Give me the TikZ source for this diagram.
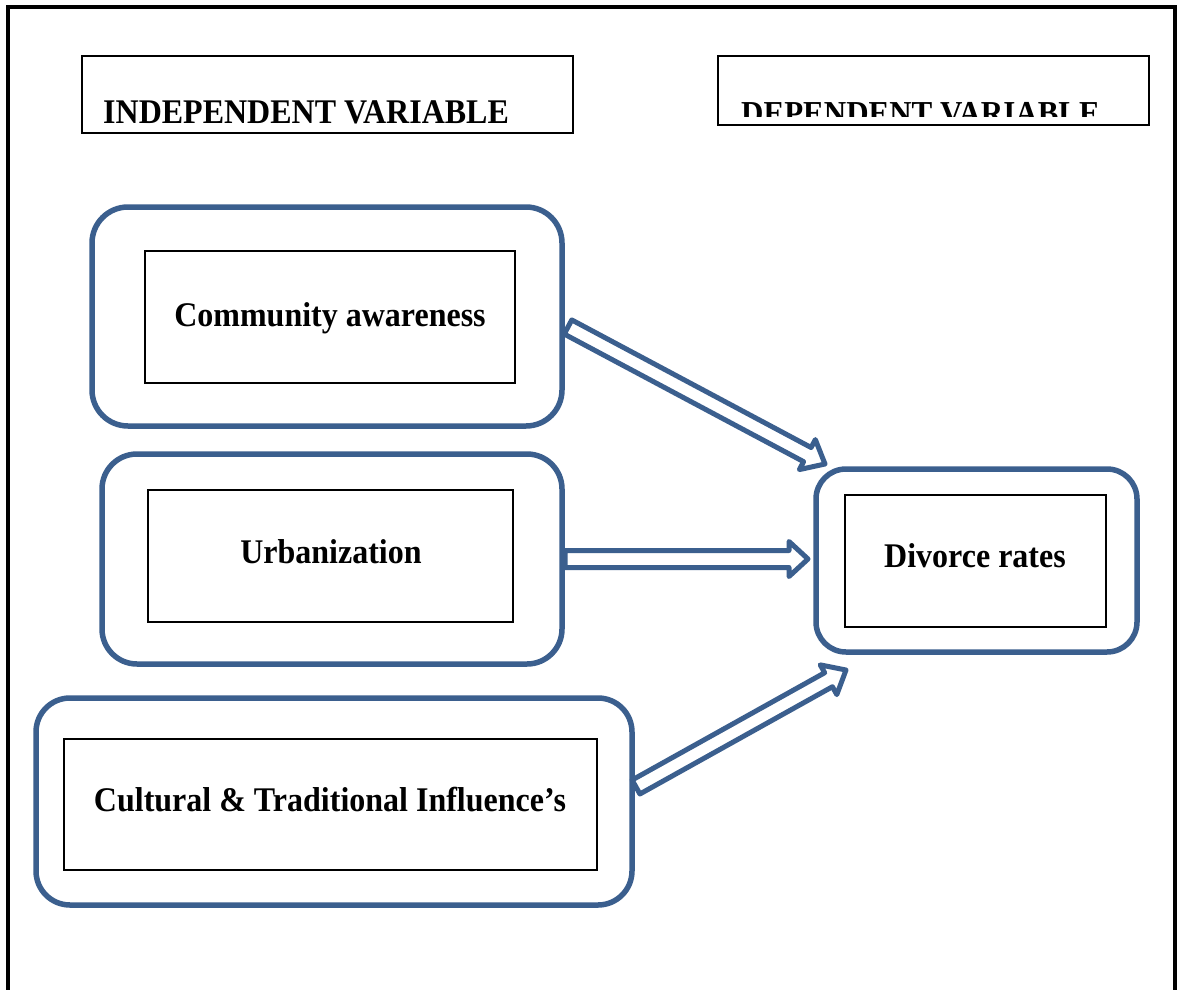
\documentclass[tikz,border=0pt]{standalone}
\usepackage{fontspec}
\setmainfont{Liberation Serif}
\usepackage{graphicx}
\usetikzlibrary{calc}
\definecolor{boxblue}{HTML}{3B5F8E}
\newcommand\lbl[1]{\scalebox{1}[1.08]{#1}}
% tail, tip, half shaft width, half head width, head length
\newcommand\blockarrow[5]{%
  \coordinate (ba-b) at ($(#2)!#5!(#1)$);
  \draw[blockarr]
    ($(#1)!#3!90:(#2)$) -- ($(ba-b)!#3!90:(#2)$) -- ($(ba-b)!#4!90:(#2)$) -- (#2)
    -- ($(ba-b)!#4!-90:(#2)$) -- ($(ba-b)!#3!-90:(#2)$) -- ($(#1)!#3!-90:(#2)$) -- cycle;
}
\begin{document}
\begin{tikzpicture}[x=1pt,y=-1pt,
  outerbox/.style={draw=boxblue, line width=5.5pt, rectangle, inner sep=0pt},
  innerbox/.style={draw=black, line width=1.6pt, rectangle, inner sep=0pt},
  headbox/.style={draw=black, line width=2pt, rectangle, inner sep=0pt},
  labeltext/.style={font=\fontsize{32}{38}\selectfont\bfseries, inner sep=0pt, anchor=base},
  headtext/.style={font=\fontsize{32}{38}\selectfont\bfseries, inner sep=0pt, anchor=base west},
  blockarr/.style={draw=boxblue, fill=white, line width=5pt, line join=round}]
\useasboundingbox (0,0) rectangle (1178,990);
\fill[white] (0,0) rectangle (1178,990);
% page frame (open at the bottom)
\draw[line width=3.5pt] (8,995) -- (8,7) -- (1175,7) -- (1175,995);

% headers
\node[headbox, minimum width=490.5pt, minimum height=76.5pt] (ivbox) at (327.25,94.75) {};
\node[headtext] (ivtext) at (103,123.5) {\lbl{INDEPENDENT VARIABLE}};
\node[headbox, minimum width=431pt, minimum height=69.3pt] (dvbox) at (933.8,90.65) {};
\begin{scope}
  \clip (719,57) rectangle (1148,116);
  \node[headtext, font=\fontsize{31}{37}\selectfont\bfseries] (dvtext) at (741,124) {\lbl{DEPENDENT VARIABLE}};
\end{scope}

% independent variables
\node[outerbox, rounded corners=36pt, minimum width=470pt, minimum height=219pt] (caout) at (327,316.5) {};
\node[innerbox, minimum width=370pt, minimum height=132pt] (cain) at (330,317) {};
\node[labeltext] (catext) at (330,326.7) {\lbl{Community awareness}};

\node[outerbox, rounded corners=35pt, minimum width=460pt, minimum height=210pt] (urout) at (332,559) {};
\node[innerbox, minimum width=365pt, minimum height=132pt] (urin) at (330.5,556) {};
\node[labeltext] (urtext) at (331,563.3) {\lbl{Urbanization}};

\node[outerbox, rounded corners=34pt, minimum width=596pt, minimum height=207pt] (ctout) at (334,801.5) {};
\node[innerbox, minimum width=533pt, minimum height=131pt] (ctin) at (330.5,804.5) {};
\node[labeltext] (cttext) at (330,811.7) {\lbl{Cultural \& Traditional Influence’s}};

% dependent variable
\node[outerbox, rounded corners=30pt, minimum width=321pt, minimum height=183pt] (dvout) at (976.5,560.5) {};
\node[innerbox, minimum width=261pt, minimum height=132pt] (dvin) at (975.5,561) {};
\node[labeltext] (dvlabel) at (975,567.3) {\lbl{Divorce rates}};

% arrow end points
\coordinate (a1t) at (568,327);
\coordinate (a1h) at (825,464);
\coordinate (a2t) at (565,559);
\coordinate (a2h) at (808,559);
\coordinate (a3t) at (636,787);
\coordinate (a3h) at (846,670);
\blockarrow{a1t}{a1h}{8pt}{17pt}{20pt}
\blockarrow{a2t}{a2h}{8.5pt}{17.5pt}{19pt}
\blockarrow{a3t}{a3h}{8pt}{17pt}{20pt}
\end{tikzpicture}
\end{document}
